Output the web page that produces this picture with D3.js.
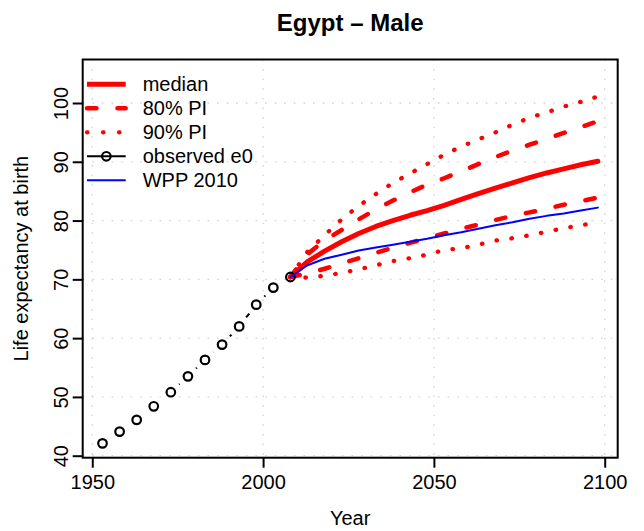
<!DOCTYPE html>
<html>
<head>
<meta charset="utf-8">
<script src="https://cdn.jsdelivr.net/npm/d3@7/dist/d3.min.js"></script>
<style>
  html, body { margin: 0; padding: 0; background: #fff; }
  svg { display: block; font-family: "Liberation Sans", Arial, Helvetica, sans-serif; }
</style>
</head>
<body>
<svg id="chart" width="644" height="531"></svg>
<script>
// ---- data ----
const title = "Egypt \u2013 Male";
const xLabel = "Year";
const yLabel = "Life expectancy at birth";
const xTicks = [1950, 2000, 2050, 2100];
const yTicks = [40, 50, 60, 70, 80, 90, 100];

const obsYears = [1953, 1958, 1963, 1968, 1973, 1978, 1983, 1988, 1993, 1998, 2003, 2008];
const obsE0    = [42.1, 44.1, 46.1, 48.4, 50.8, 53.5, 56.3, 58.9, 62.0, 65.7, 68.6, 70.4];

const projYears = [2008, 2013, 2018, 2023, 2028, 2033, 2038, 2043, 2048, 2053, 2058, 2063, 2068, 2073, 2078, 2083, 2088, 2093, 2098];
const median    = [70.4, 73.0, 74.8, 76.4, 77.8, 79.0, 80.0, 80.9, 81.7, 82.6, 83.6, 84.6, 85.5, 86.4, 87.3, 88.1, 88.8, 89.5, 90.1];
const upper80   = [70.4, 74.3, 76.6, 78.4, 80.2, 81.9, 83.4, 84.8, 86.1, 87.2, 88.4, 89.6, 90.8, 91.9, 92.9, 93.9, 94.9, 95.9, 96.9];
const lower80   = [70.4, 71.0, 71.8, 72.7, 73.6, 74.5, 75.4, 76.2, 77.0, 77.8, 78.6, 79.3, 80.1, 80.8, 81.4, 82.0, 82.7, 83.3, 83.9];
const upper90   = [70.4, 74.7, 77.5, 80.2, 82.5, 84.5, 86.4, 88.0, 89.6, 91.2, 92.6, 93.8, 95.0, 96.3, 97.5, 98.4, 99.4, 100.2, 101.1];
const lower90   = [70.4, 70.3, 70.6, 71.1, 71.7, 72.4, 73.1, 73.6, 74.2, 75.0, 75.3, 75.9, 76.6, 77.0, 77.5, 78.1, 78.7, 79.2, 79.7];
const wpp2010   = [70.4, 72.4, 73.5, 74.2, 74.9, 75.4, 75.9, 76.4, 76.9, 77.5, 78.0, 78.6, 79.2, 79.7, 80.3, 80.8, 81.2, 81.7, 82.2];

const legendLabels = ["median", "80% PI", "90% PI", "observed e0", "WPP 2010"];

// ---- layout ----
const plot = { left: 82.7, right: 617.7, top: 59.5, bottom: 457.7 };
const svg = d3.select("#chart");

const x = d3.scaleLinear().domain([1947.2, 2103.8]).range([plot.left, plot.right]);
const y = d3.scaleLinear().domain([39.66, 107.4]).range([plot.bottom, plot.top]);

// grid
const grid = svg.append("g").attr("stroke", "#d3d3d3").attr("stroke-width", 1.3)
  .attr("stroke-dasharray", "1.6,8").attr("fill", "none");
xTicks.forEach(t => grid.append("line")
  .attr("x1", x(t)).attr("x2", x(t)).attr("y1", plot.top).attr("y2", plot.bottom));
yTicks.forEach(t => grid.append("line")
  .attr("x1", plot.left).attr("x2", plot.right).attr("y1", y(t)).attr("y2", y(t)));

// lines
const proj = vals => projYears.map((yr, i) => [yr, vals[i]]);
const line = d3.line().x(d => x(d[0])).y(d => y(d[1]));
const red = "#ff0000";

function drawLine(vals, color, width, dash) {
  svg.append("path").datum(proj(vals))
    .attr("d", line).attr("fill", "none")
    .attr("stroke", color).attr("stroke-width", width)
    .attr("stroke-linecap", "round").attr("stroke-linejoin", "round")
    .attr("stroke-dasharray", dash || null);
}
const dashPI80 = "9.5,21";
const dashPI90 = "0.5,14.5";
drawLine(upper90, red, 4.3, dashPI90);
drawLine(lower90, red, 4.3, dashPI90);
drawLine(upper80, red, 4.5, dashPI80);
drawLine(lower80, red, 4.5, dashPI80);
drawLine(median, red, 5);

// observed: points joined by segments with gaps (type "b")
const gap = 11.3;
const obs = svg.append("g");
for (let i = 0; i < obsYears.length - 1; i++) {
  const x1 = x(obsYears[i]), y1 = y(obsE0[i]);
  const x2 = x(obsYears[i + 1]), y2 = y(obsE0[i + 1]);
  const dx = x2 - x1, dy = y2 - y1, dist = Math.hypot(dx, dy);
  if (dist > 2 * gap) {
    const ux = dx / dist, uy = dy / dist;
    obs.append("line")
      .attr("x1", x1 + ux * gap).attr("y1", y1 + uy * gap)
      .attr("x2", x2 - ux * gap).attr("y2", y2 - uy * gap)
      .attr("stroke", "#000").attr("stroke-width", 2);
  }
}
obs.selectAll("circle").data(obsYears.map((yr, i) => [yr, obsE0[i]])).enter()
  .append("circle")
  .attr("cx", d => x(d[0])).attr("cy", d => y(d[1])).attr("r", 4.3)
  .attr("fill", "none").attr("stroke", "#000").attr("stroke-width", 2.2);

drawLine(wpp2010, "#0000ff", 2);

// box
svg.append("rect").attr("x", plot.left).attr("y", plot.top)
  .attr("width", plot.right - plot.left).attr("height", plot.bottom - plot.top)
  .attr("fill", "none").attr("stroke", "#000").attr("stroke-width", 2);

// axes
const xAxis = svg.append("g").attr("transform", `translate(0,${plot.bottom})`)
  .call(d3.axisBottom(x).tickValues(xTicks).tickSize(10).tickSizeOuter(0).tickPadding(5).tickFormat(d3.format("d")));
xAxis.select(".domain").remove();
xAxis.selectAll(".tick line").attr("stroke", "#000").attr("stroke-width", 2);
xAxis.selectAll(".tick text").attr("font-size", 20).attr("fill", "#000")
  .attr("font-family", "Liberation Sans, Arial, sans-serif")
  .attr("dy", null).attr("y", 31.5);

const yAxis = svg.append("g").attr("transform", `translate(${plot.left},0)`)
  .call(d3.axisLeft(y).tickValues(yTicks).tickSize(10).tickSizeOuter(0).tickFormat(d3.format("d")));
yAxis.select(".domain").remove();
yAxis.selectAll(".tick line").attr("stroke", "#000").attr("stroke-width", 2);
yAxis.selectAll(".tick text").attr("font-size", 20).attr("fill", "#000")
  .attr("font-family", "Liberation Sans, Arial, sans-serif")
  .attr("x", null).attr("dy", null)
  .attr("text-anchor", "middle")
  .attr("transform", "translate(-14.5,0) rotate(-90)");

// title and axis labels
svg.append("text").attr("x", (plot.left + plot.right) / 2).attr("y", 31)
  .attr("text-anchor", "middle").attr("font-size", 24).attr("font-weight", "bold")
  .text(title);
svg.append("text").attr("x", (plot.left + plot.right) / 2).attr("y", 525)
  .attr("text-anchor", "middle").attr("font-size", 20).text(xLabel);
svg.append("text")
  .attr("transform", `translate(27.5,${(plot.top + plot.bottom) / 2}) rotate(-90)`)
  .attr("text-anchor", "middle").attr("font-size", 20).text(yLabel);

// legend
const lg = svg.append("g");
const lx1 = 87, lx2 = 125.7, ltx = 142.7, ly0 = 84.3, lstep = 24;
const legendStyles = [
  { color: red, width: 5, dash: null },
  { color: red, width: 4.5, dash: dashPI80 },
  { color: red, width: 4.3, dash: "0.5,15.5" },
  { color: "#000", width: 2, dash: null, point: true },
  { color: "#0000ff", width: 2, dash: null }
];
legendLabels.forEach((lab, i) => {
  const yy = ly0 + i * lstep;
  const s = legendStyles[i];
  lg.append("line").attr("x1", lx1).attr("x2", lx2).attr("y1", yy).attr("y2", yy)
    .attr("stroke", s.color).attr("stroke-width", s.width)
    .attr("stroke-linecap", s.dash ? "round" : "butt")
    .attr("stroke-dasharray", s.dash);
  if (s.point) {
    lg.append("circle").attr("cx", (lx1 + lx2) / 2).attr("cy", yy).attr("r", 4.3)
      .attr("fill", "none").attr("stroke", "#000").attr("stroke-width", 2.2);
  }
  lg.append("text").attr("x", ltx).attr("y", yy).attr("dy", "0.35em")
    .attr("font-size", 20).text(lab);
});
</script>
</body>
</html>
